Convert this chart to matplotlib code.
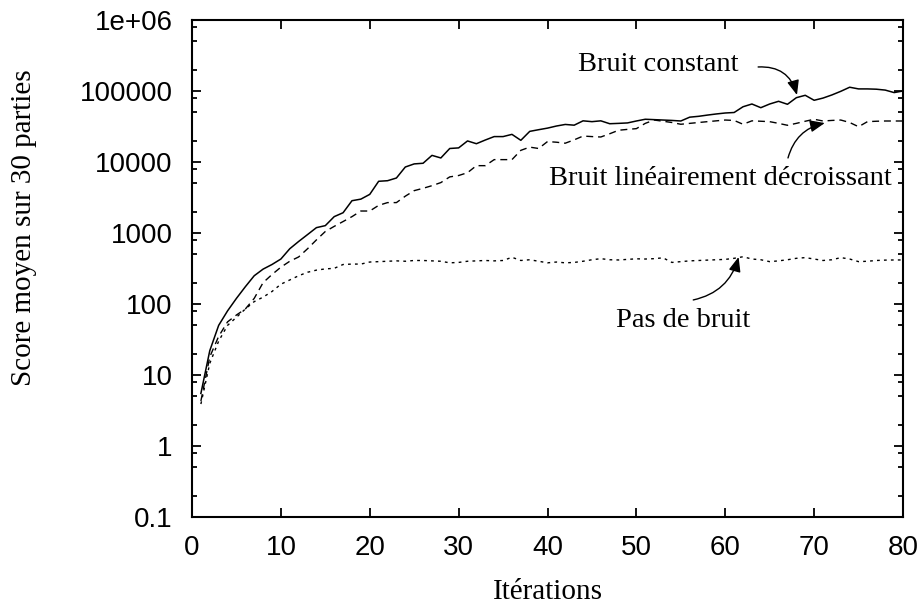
import matplotlib
matplotlib.use("Agg")
import matplotlib.pyplot as plt
from matplotlib.ticker import LogLocator, FixedLocator, NullFormatter, FixedFormatter

iterations = list(range(1, 81))

bruit_constant = [
    5.5, 22, 50, 80, 120, 175, 250, 310, 360, 430,
    600, 760, 950, 1190, 1270, 1700, 1930, 2850, 3000, 3500,
    5350, 5450, 5950, 8500, 9400, 9600, 12400, 11400, 15500, 15800,
    19800, 18100, 20400, 22800, 22800, 24500, 20200, 27000, 28500, 30000,
    32100, 33800, 33000, 38000, 37000, 38000, 34600, 35000, 35500, 37800,
    40000, 39500, 39000, 38500, 37800, 42800, 44000, 45800, 47500, 49000,
    49800, 60000, 65600, 58200, 65600, 71600, 65000, 80500, 87000, 74000,
    79500, 88000, 99000, 113000, 107000, 107000, 106000, 103000, 95000, 100000,
]

bruit_lineaire = [
    4.3, 18, 35, 56, 70, 85, 120, 200, 260, 330,
    400, 460, 600, 800, 1050, 1240, 1450, 1700, 2040, 2040,
    2450, 2680, 2680, 3300, 3950, 4260, 4640, 5130, 6170, 6450,
    7070, 8880, 8880, 10800, 10800, 10800, 14600, 16200, 15500, 19400,
    19000, 18400, 20500, 23200, 22800, 22500, 25000, 28000, 28800, 29500,
    35000, 39000, 37500, 36000, 34000, 35000, 36000, 37000, 38000, 39000,
    38500, 34000, 38000, 37500, 37000, 35000, 32900, 35000, 37500, 40000,
    37800, 38500, 39000, 36000, 31400, 37000, 37500, 37800, 37800, 37800,
]

pas_de_bruit = [
    3.9, 14.6, 30, 50, 65, 85, 108, 125, 150, 190,
    218, 250, 280, 300, 312, 318, 360, 365, 365, 390,
    395, 400, 405, 400, 410, 410, 405, 400, 380, 385,
    400, 405, 410, 405, 410, 455, 410, 420, 400, 380,
    390, 380, 385, 400, 420, 435, 420, 417, 425, 433,
    430, 435, 447, 385, 395, 405, 410, 415, 420, 425,
    440, 463, 430, 420, 395, 405, 420, 440, 450, 430,
    410, 420, 450, 430, 395, 400, 410, 415, 417, 417,
]

xticks = [0, 10, 20, 30, 40, 50, 60, 70, 80]
yticks = [0.1, 1, 10, 100, 1000, 10000, 100000, 1000000]
ytick_labels = ["0.1", "1", "10", "100", "1000", "10000", "100000", "1e+06"]

SERIF = ["Liberation Serif", "DejaVu Serif"]
SANS = ["Liberation Sans", "DejaVu Sans"]

fig = plt.figure(figsize=(9.22, 6.06), dpi=100)
W, H = 922, 606
ax = fig.add_axes([192 / W, 1 - 517 / H, (903 - 192) / W, (517 - 20) / H])

ax.plot(iterations, bruit_constant, color="black", lw=1.1, linestyle="-")
ax.plot(iterations, bruit_lineaire, color="black", lw=1.0, linestyle=(0, (5, 3.5)))
ax.plot(iterations, pas_de_bruit, color="black", lw=1.0, linestyle=(0, (2, 3)))

ax.set_yscale("log")
ax.set_xlim(0, 80)
ax.set_ylim(0.1, 1e6)

ax.xaxis.set_major_locator(FixedLocator(xticks))
ax.set_xticklabels([str(v) for v in xticks])
ax.yaxis.set_major_locator(FixedLocator(yticks))
ax.yaxis.set_major_formatter(FixedFormatter(ytick_labels))
ax.yaxis.set_minor_locator(LogLocator(base=10, subs=[2, 5, 8], numticks=20))
ax.yaxis.set_minor_formatter(NullFormatter())

for sp in ax.spines.values():
    sp.set_linewidth(1.5)

ax.tick_params(which="both", direction="in", top=True, right=True, width=1.3)
ax.tick_params(which="major", length=6.5)
ax.tick_params(which="minor", length=3.5)
ax.tick_params(axis="y", which="major", pad=14)
ax.tick_params(axis="x", which="major", pad=13)
for lab in ax.get_xticklabels() + ax.get_yticklabels():
    lab.set_fontfamily(SANS)
    lab.set_fontsize(20)

fig.text(24 / W, 1 - 227.5 / H, "Score moyen sur 30 parties", rotation=90,
         ha="center", va="center", fontsize=21, family=SERIF)
fig.text(548 / W, 1 - 599 / H, "Itérations", ha="center", va="baseline",
         fontsize=21, family=SERIF)

arrow_kw = dict(arrowstyle="-|>,head_length=0.8,head_width=0.33", color="black",
                lw=1.0, mutation_scale=11, shrinkA=0, shrinkB=0)

ax.text(52.47, 191000, "Bruit constant", ha="center", va="baseline",
        fontsize=20.5, family=SERIF)
ax.annotate("", xy=(68.07, 87900), xytext=(63.7, 218000),
            arrowprops=dict(connectionstyle="arc3,rad=-0.4", **arrow_kw))

ax.text(59.41, 4740, "Bruit linéairement décroissant", ha="center", va="baseline",
        fontsize=20.5, family=SERIF)
ax.annotate("", xy=(71.2, 35400), xytext=(67.06, 11400),
            arrowprops=dict(connectionstyle="arc3,rad=-0.3", **arrow_kw))

ax.text(55.25, 47.4, "Pas de bruit", ha="center", va="baseline",
        fontsize=20.5, family=SERIF)
ax.annotate("", xy=(61.5, 459), xytext=(56.4, 114),
            arrowprops=dict(connectionstyle="arc3,rad=0.3", **arrow_kw))

fig.savefig("out.png", dpi=100)
